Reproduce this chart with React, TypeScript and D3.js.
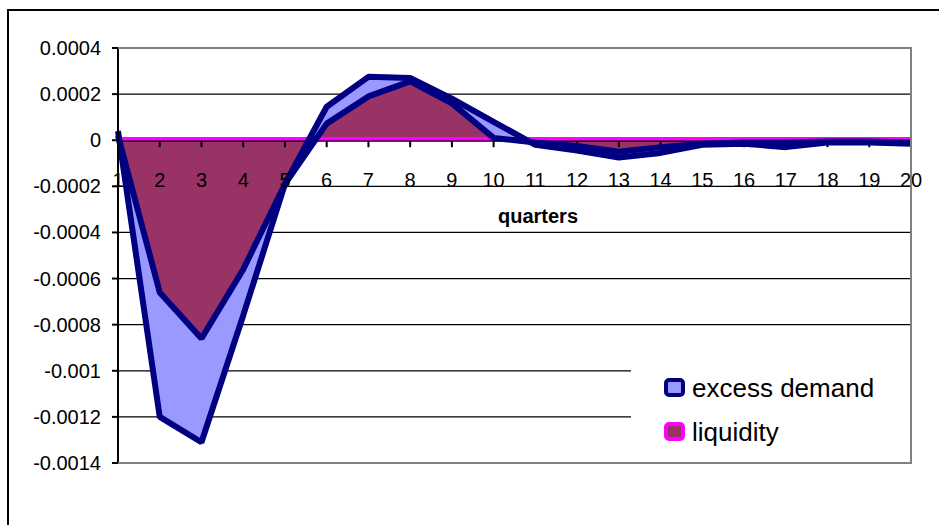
"use client"
import { useEffect, useRef } from 'react';
import * as d3 from "d3";

// quarters 1..20
const quarters = d3.range(1, 21);

// outer series (light blue area, navy border)
const excessDemand = [
  0.00004, -0.0012, -0.00131, -0.00076, -0.00019, 0.000145, 0.000275, 0.00027, 0.00018, 0.00008,
  -0.00002, -0.000045, -0.000075, -0.000055, -0.00002, -0.000015, -0.00003, -0.00001, -0.00001, -0.000015,
];

// inner series (maroon area)
const liquidity = [
  0.00002, -0.00066, -0.00086, -0.00056, -0.00019, 0.000072, 0.00019, 0.000255, 0.00016, 0.00001,
  -0.00001, -0.000025, -0.00005, -0.00003, -0.000015, -0.00001, -0.00001, -0.000005, -0.000005, -0.00001,
];

const yTicks = [0.0004, 0.0002, 0, -0.0002, -0.0004, -0.0006, -0.0008, -0.001, -0.0012, -0.0014];

const legendItems = [
  { name: "excess demand", stroke: "#000080", fill: "#9999FF" },
  { name: "liquidity", stroke: "#FF00FF", fill: "#993366" },
];

const FONT = "Arial, 'Liberation Sans', sans-serif";

export default function App() {
  const chartRef = useRef<SVGSVGElement>(null);

  useEffect(() => {
    if (!chartRef.current) return;
    const svg = d3.select(chartRef.current);
    svg.selectAll("*").remove();

    const width = 939;
    const height = 525;
    const left = 118, right = 911, top = 48, bottom = 463;

    svg.attr("width", width).attr("height", height);

    const x = d3.scaleLinear().domain([1, 20]).range([left, right]);
    const y = d3.scaleLinear().domain([-0.0014, 0.0004]).range([bottom, top]);

    // outer chart frame
    svg.append("rect")
      .attr("x", 8).attr("y", 10)
      .attr("width", 1000).attr("height", 700)
      .attr("fill", "white")
      .attr("stroke", "black")
      .attr("stroke-width", 2);

    // gridlines
    svg.append("g")
      .selectAll("line")
      .data(yTicks.filter(t => t !== 0.0004 && t !== -0.0014 && t !== 0))
      .join("line")
      .attr("x1", left).attr("x2", right)
      .attr("y1", d => y(d)).attr("y2", d => y(d))
      .attr("stroke", "black")
      .attr("stroke-width", 1.2);

    // y labels
    svg.append("g")
      .selectAll("text")
      .data(yTicks)
      .join("text")
      .attr("x", 101)
      .attr("y", d => y(d) + 7)
      .attr("text-anchor", "end")
      .attr("font-family", FONT)
      .attr("font-size", 20)
      .text(d => d === 0 ? "0" : d3.format(".4~f")(d).replace("−", "-"));

    // y ticks
    svg.append("g")
      .selectAll("line")
      .data(yTicks)
      .join("line")
      .attr("x1", left - 6).attr("x2", left)
      .attr("y1", d => y(d)).attr("y2", d => y(d))
      .attr("stroke", "black")
      .attr("stroke-width", 2);

    svg.append("text")
      .attr("x", 538).attr("y", 223)
      .attr("text-anchor", "middle")
      .attr("font-family", FONT)
      .attr("font-weight", "bold")
      .attr("font-size", 20)
      .text("quarters");

    // areas
    const area = d3.area<number>()
      .x((_, i) => x(quarters[i]))
      .y0(y(0))
      .y1(d => y(d));
    const line = d3.line<number>()
      .x((_, i) => x(quarters[i]))
      .y(d => y(d));

    svg.append("path").attr("d", area(excessDemand)).attr("fill", "#9999FF");
    svg.append("path").attr("d", area(liquidity)).attr("fill", "#993366");

    // zero axis + ticks
    svg.append("line")
      .attr("x1", left).attr("x2", right)
      .attr("y1", y(0) + 0.5).attr("y2", y(0) + 0.5)
      .attr("stroke", "black").attr("stroke-width", 2);
    svg.append("g")
      .selectAll("line")
      .data(quarters)
      .join("line")
      .attr("x1", d => x(d)).attr("x2", d => x(d))
      .attr("y1", y(0)).attr("y2", y(0) + 7)
      .attr("stroke", "black").attr("stroke-width", 2);

    // liquidity baseline border
    svg.append("line")
      .attr("x1", left).attr("x2", right)
      .attr("y1", y(0) - 1.5).attr("y2", y(0) - 1.5)
      .attr("stroke", "#FF00FF").attr("stroke-width", 3.5);

    // navy borders of both data lines
    [liquidity, excessDemand].forEach(s => {
      svg.append("path")
        .attr("d", line(s))
        .attr("fill", "none")
        .attr("stroke", "#000080")
        .attr("stroke-width", 6)
        .attr("stroke-linejoin", "bevel");
    });

    // x labels (drawn over the areas)
    svg.append("g")
      .selectAll("text")
      .data(quarters)
      .join("text")
      .attr("x", d => x(d))
      .attr("y", 187)
      .attr("text-anchor", "middle")
      .attr("font-family", FONT)
      .attr("font-size", 20)
      .text(d => d);

    // y axis
    svg.append("line")
      .attr("x1", left).attr("x2", left)
      .attr("y1", top).attr("y2", bottom)
      .attr("stroke", "black").attr("stroke-width", 2);

    // legend
    const lg = svg.append("g");
    lg.append("rect")
      .attr("x", 631).attr("y", 352)
      .attr("width", right - 631).attr("height", bottom - 352)
      .attr("fill", "white");
    legendItems.forEach((it, i) => {
      const ly = 378 + i * 44;
      lg.append("rect")
        .attr("x", 666).attr("y", ly + 2)
        .attr("width", 17).attr("height", 15)
        .attr("rx", 3)
        .attr("fill", it.fill)
        .attr("stroke", it.stroke)
        .attr("stroke-width", 4);
      lg.append("text")
        .attr("x", 692).attr("y", ly + 19)
        .attr("font-family", FONT)
        .attr("font-size", 26)
        .text(it.name);
    });

    // plot border (gray) top / right / bottom
    svg.append("path")
      .attr("d", `M${left},${top}H${right}V${bottom}H${left}`)
      .attr("fill", "none")
      .attr("stroke", "#808080")
      .attr("stroke-width", 2);
  }, []);

  return (
    <div style={{ position: "absolute", left: 0, top: 0 }}>
      <svg ref={chartRef}></svg>
    </div>
  );
}
